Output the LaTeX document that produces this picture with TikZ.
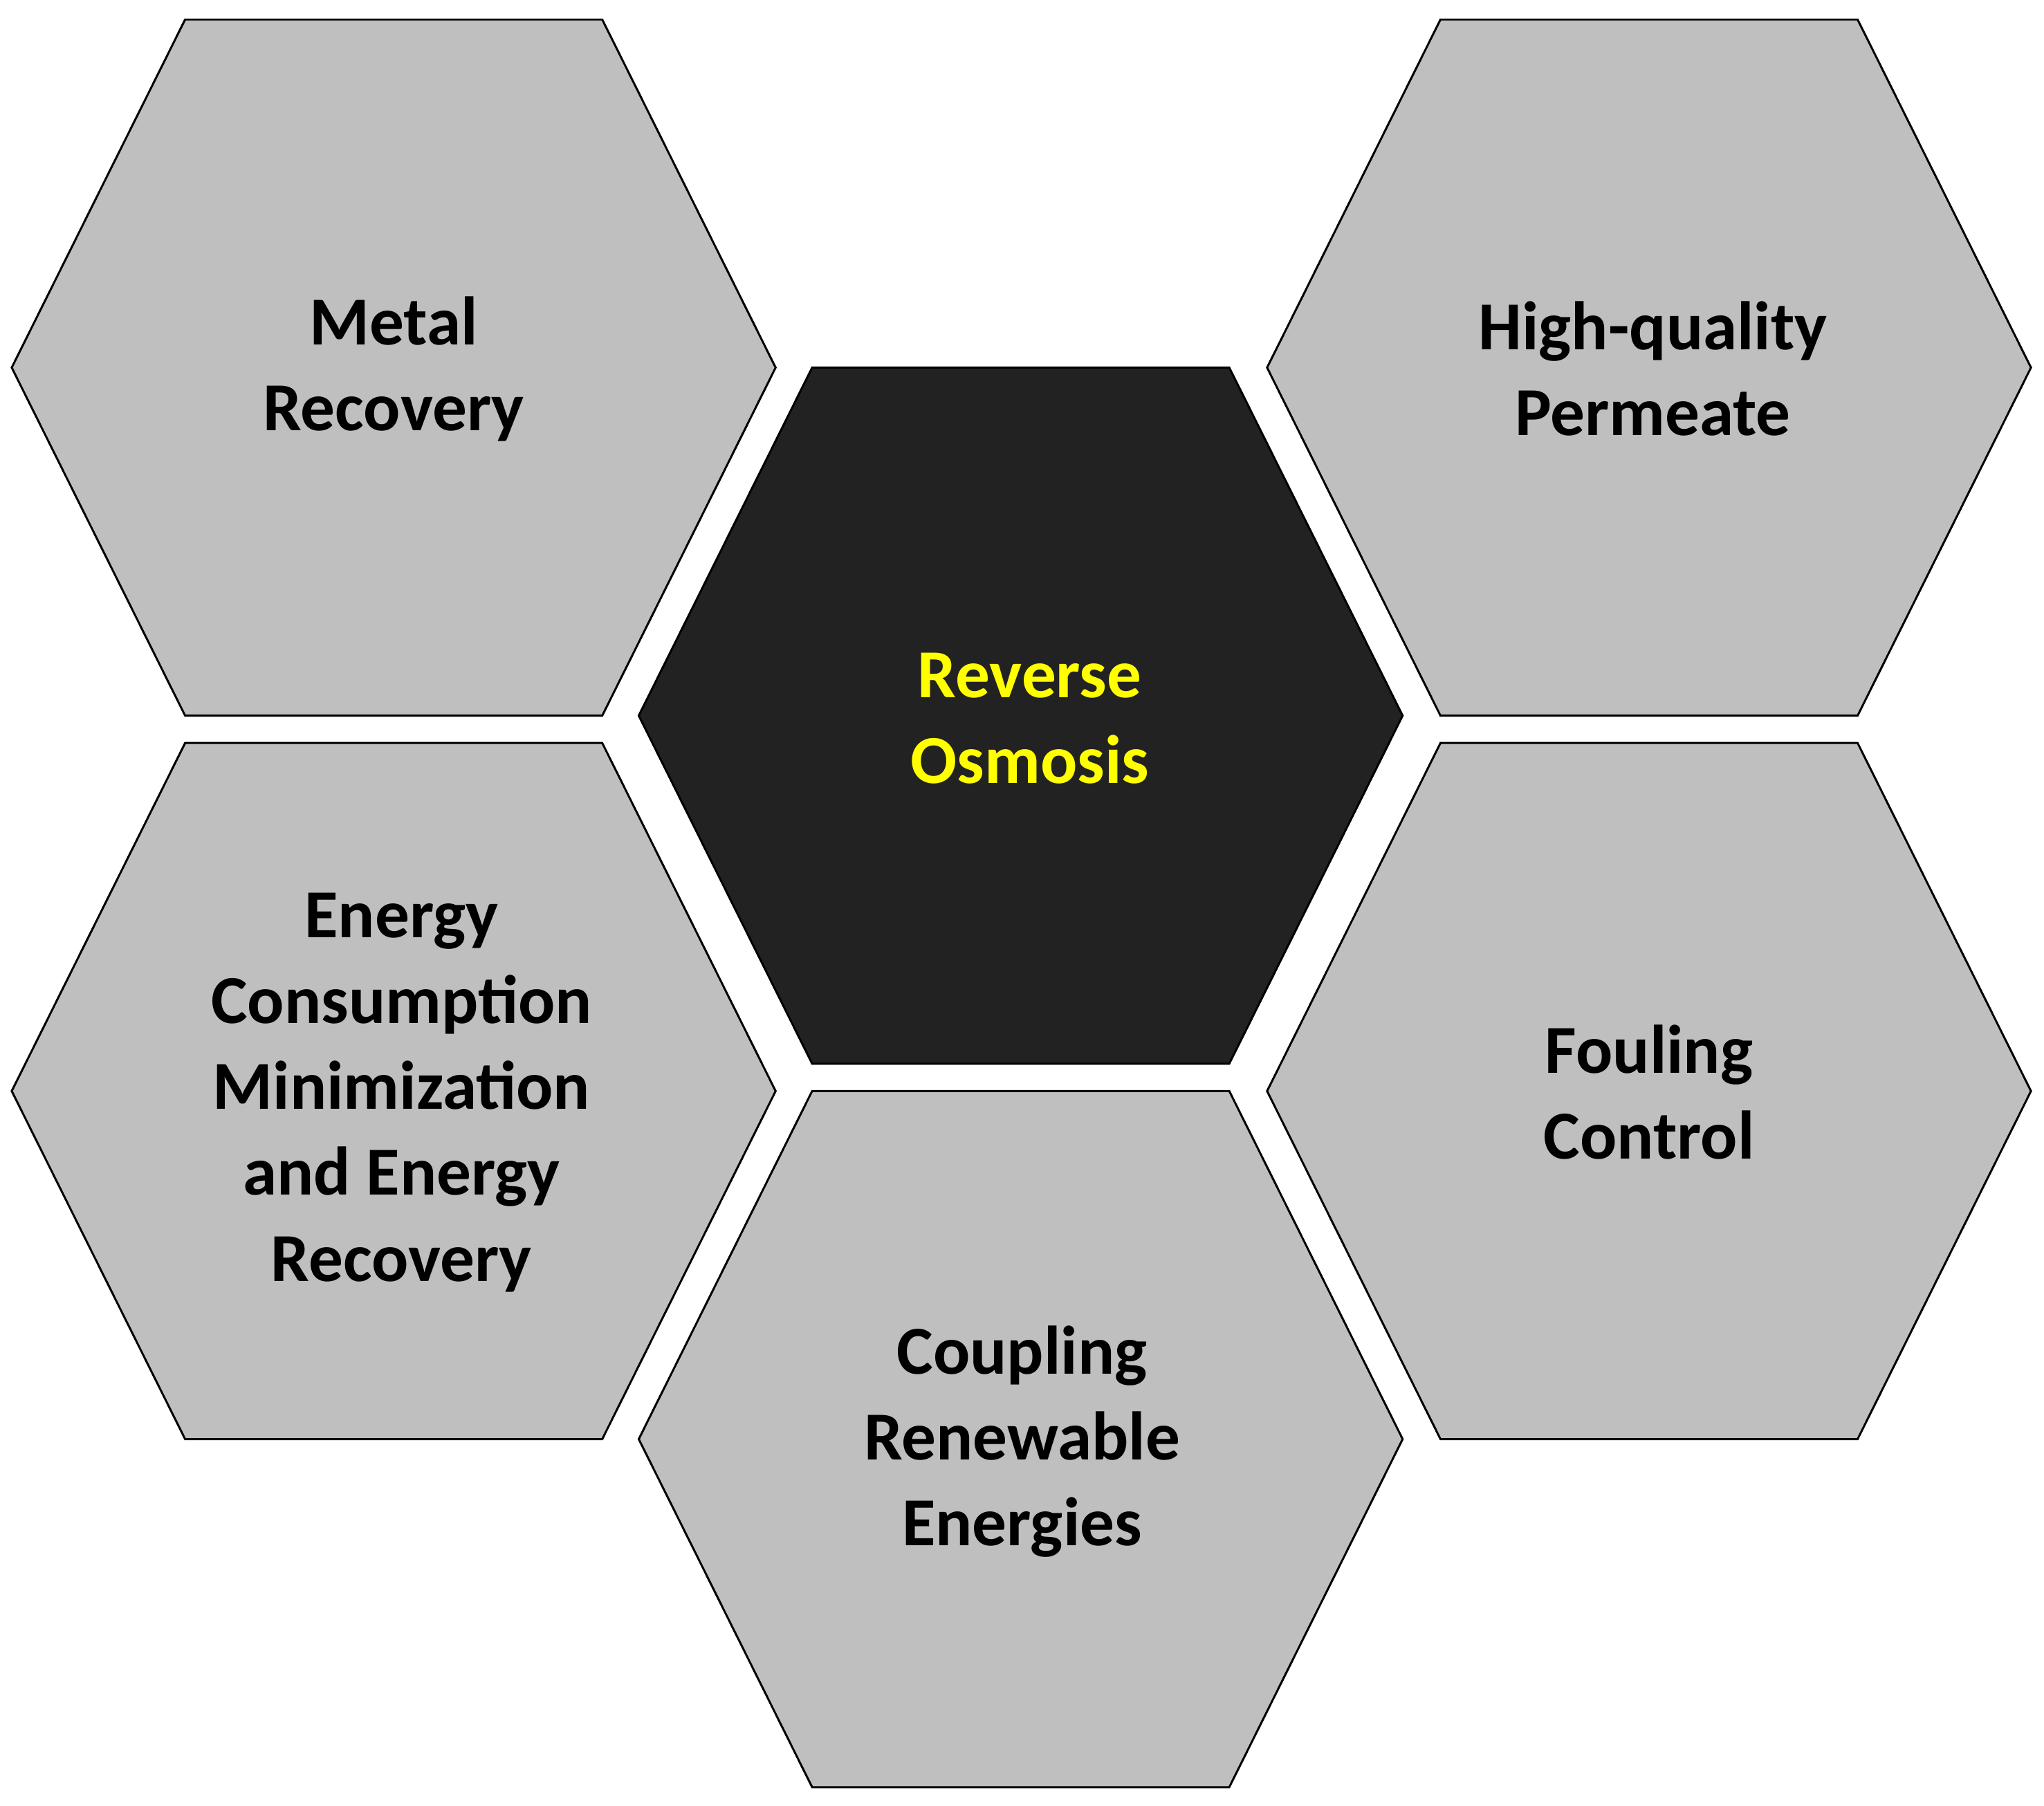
\documentclass[tikz,border=0pt]{standalone}
\usepackage{fontspec}
\setmainfont{Carlito}
\begin{document}
\begin{tikzpicture}[x=0.02cm,y=-0.02cm,
  hexg/.style={fill=hexgray,draw=black,line width=0.9pt,line join=miter},
  hexd/.style={fill=hexdark,draw=black,line width=0.9pt,line join=miter},
  lab/.style={align=center,font=\fontsize{30}{37.5}\selectfont\bfseries,text=black},
  labc/.style={lab,text=hexyellow}]
\definecolor{hexgray}{HTML}{BFBFBF}
\definecolor{hexdark}{HTML}{222222}
\definecolor{hexyellow}{HTML}{FFFF00}
\useasboundingbox (0,0) rectangle (1568,1385);
\newcommand{\myhex}[3]{\path[#3] (#1-160,#2-267) -- (#1+160,#2-267) -- (#1+293,#2) -- (#1+160,#2+267) -- (#1-160,#2+267) -- (#1-293,#2) -- cycle;}
\myhex{302}{282}{hexg}
\myhex{1265}{282}{hexg}
\myhex{302}{837}{hexg}
\myhex{1265}{837}{hexg}
\myhex{783}{1104}{hexg}
\myhex{783}{549}{hexd}
\node[lab] (metal) at (302,283) {Metal\\Recovery};
\node[lab] (perm) at (1268,283) {High-quality\\Permeate};
\node[labc] (ro) at (790,551) {Reverse\\Osmosis};
\node[lab] (energy) at (308,838) {Energy\\Consumption\\Minimization\\and Energy\\Recovery};
\node[lab] (foul) at (1265,838) {Fouling\\Control};
\node[lab] (coup) at (784,1106) {Coupling\\Renewable\\Energies};
\end{tikzpicture}
\end{document}
